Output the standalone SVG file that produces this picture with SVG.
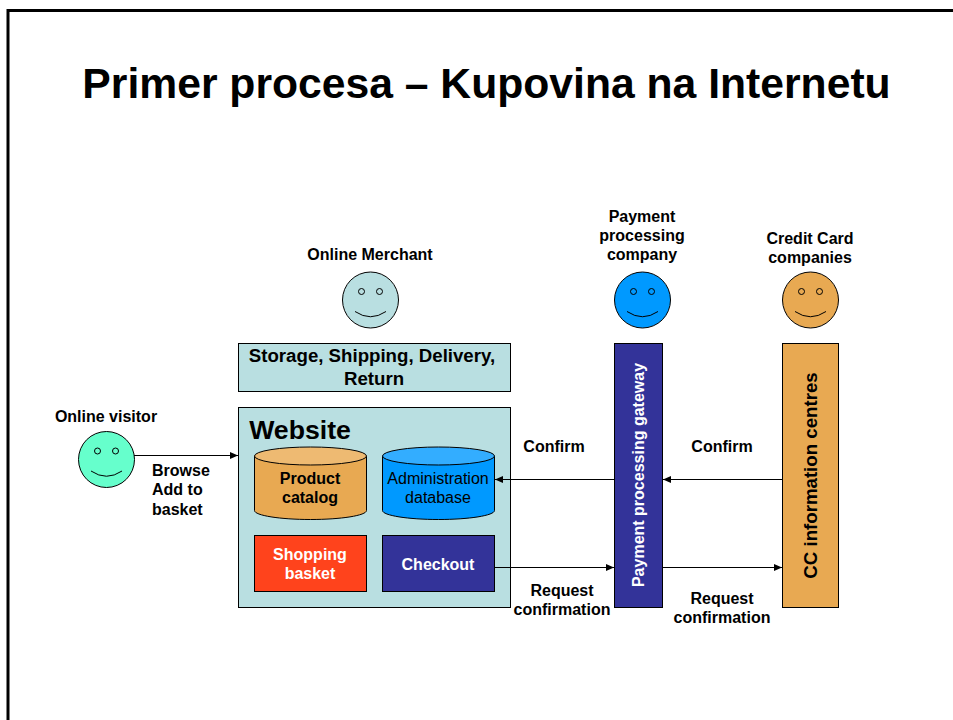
<svg xmlns="http://www.w3.org/2000/svg" width="953" height="720" viewBox="0 0 953 720">
<style>
text{font-family:"Liberation Sans",Arial,sans-serif;text-anchor:middle;fill:#000}
.b{font-weight:bold;font-size:16px}
.n{font-size:16px}
.l{font-weight:bold;font-size:18.670px}
.w{fill:#fff}
.s{stroke:#000;stroke-width:1}
.line{stroke:#000;stroke-width:1;fill:none;marker-end:url(#a)}
.eye,.smile{fill:none;stroke:#000;stroke-width:1}
</style>
<defs>
<marker id="a" markerUnits="userSpaceOnUse" markerWidth="8" markerHeight="8" refX="8" refY="4" orient="auto"><path d="M0 0.5L8 4L0 7.5Z" fill="#000"/></marker>
<g id="face"><circle cx="0" cy="0" r="28" class="s"/><circle cx="-9" cy="-8.500" r="3" class="eye"/><circle cx="9" cy="-8.500" r="3" class="eye"/><path d="M-15.500 11.500Q0 22 15.500 11.500" class="smile"/></g>
</defs>
<rect width="953" height="720" fill="#fff"/>
<path d="M8 720V10.500H953" fill="none" stroke="#000" stroke-width="3"/>
<text x="486.500" y="98" font-size="42.670" font-weight="bold">Primer procesa – Kupovina na Internetu</text>
<g id="visitor"><text x="106" y="422" class="b">Online visitor</text><use href="#face" x="106.500" y="459.500" fill="#66ffcc"/></g>
<g id="merchant"><text x="370" y="260" class="b">Online Merchant</text><use href="#face" x="370.500" y="300" fill="#b9dfe1"/></g>
<g id="payco"><text x="642" y="222" class="b">Payment</text><text x="642" y="241" class="b">processing</text><text x="642" y="260" class="b">company</text><use href="#face" x="642.500" y="300" fill="#0099ff"/></g>
<g id="ccco"><text x="810" y="244" class="b">Credit Card</text><text x="810" y="263" class="b">companies</text><use href="#face" x="810.500" y="300" fill="#e8a952"/></g>
<g id="storage"><rect x="238.500" y="343.500" width="272" height="48" fill="#b9dfe1" class="s"/><text x="372" y="362" class="l">Storage, Shipping, Delivery,</text><text x="374" y="385" class="l">Return</text></g>
<g id="website"><rect x="238.500" y="407.500" width="272" height="200" fill="#b9dfe1" class="s"/><text x="300" y="439" font-size="26.670" font-weight="bold">Website</text></g>
<g id="catalog"><path d="M254.500 456V510.500C254.500 515.500 280 519.500 310.500 519.500S366.500 515.500 366.500 510.500V456Z" fill="#e8a952" class="s"/><ellipse cx="310.500" cy="456" rx="56" ry="9" fill="#eeba72" class="s"/><text x="310" y="484" class="b">Product</text><text x="310" y="503" class="b">catalog</text></g>
<g id="admin"><path d="M382.500 456V510.500C382.500 515.500 408 519.500 438.500 519.500S494.500 515.500 494.500 510.500V456Z" fill="#0099ff" class="s"/><ellipse cx="438.500" cy="456" rx="56" ry="9" fill="#33adff" class="s"/><text x="438" y="484" class="n">Administration</text><text x="438" y="503" class="n">database</text></g>
<g id="basket"><rect x="254.500" y="535.500" width="112" height="56" fill="#ff431c" class="s"/><text x="310" y="560" class="b w">Shopping</text><text x="310" y="579" class="b w">basket</text></g>
<g id="checkout"><rect x="382.500" y="535.500" width="112" height="56" fill="#333399" class="s"/><text x="438" y="570" class="b w">Checkout</text></g>
<g id="gateway"><rect x="614.500" y="343.500" width="48" height="264" fill="#333399" class="s"/><text transform="translate(644 475) rotate(-90)" class="b w">Payment processing gateway</text></g>
<g id="cc"><rect x="782.500" y="343.500" width="56" height="264" fill="#e8a952" class="s"/><text transform="translate(817 475.500) rotate(-90)" class="l">CC information centres</text></g>
<g id="connectors">
<path d="M134 455.500H238" class="line"/>
<path d="M614 479.500H495" class="line"/>
<path d="M782 479.500H663" class="line"/>
<path d="M495 567.500H614" class="line"/>
<path d="M663 567.500H782" class="line"/>
</g>
<g id="labels">
<text x="152" y="476" class="b" style="text-anchor:start">Browse</text><text x="152" y="495" class="b" style="text-anchor:start">Add to</text><text x="152" y="515" class="b" style="text-anchor:start">basket</text>
<text x="554" y="452" class="b">Confirm</text><text x="722" y="452" class="b">Confirm</text>
<text x="562" y="596" class="b">Request</text><text x="562" y="615" class="b">confirmation</text>
<text x="722" y="604" class="b">Request</text><text x="722" y="623" class="b">confirmation</text>
</g>
</svg>
